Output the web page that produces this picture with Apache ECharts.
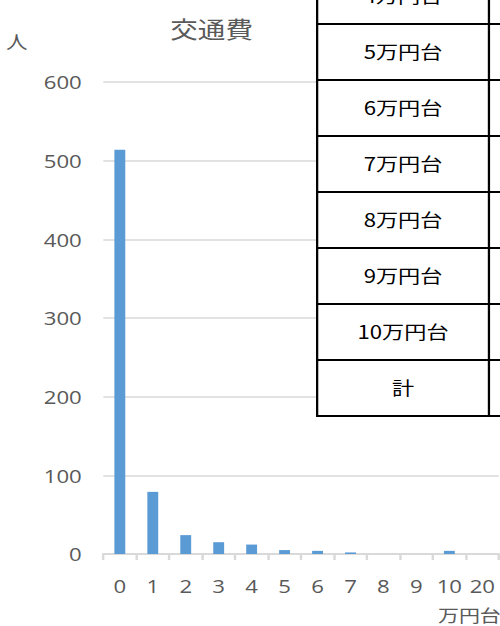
<!DOCTYPE html>
<html>
<head>
<meta charset="utf-8">
<script src="https://cdn.jsdelivr.net/npm/echarts@6/dist/echarts.min.js"></script>
<style>
  html, body { margin: 0; padding: 0; background: #fff; overflow: hidden; }
  #wrap { width: 500px; height: 626px; overflow: hidden; position: relative; }
  #chart { width: 417px; height: 626px; transform: scaleX(1.199); transform-origin: 0 0; }
</style>
</head>
<body>
<div id="wrap"><div id="chart"></div></div>
<script>
// ---- data ----
var categories = ['0', '1', '2', '3', '4', '5', '6', '7', '8', '9', '10', '20'];
var counts = [514, 79, 24, 15, 12, 5, 4, 2, 0, 0, 4, 0];
var yTicks = [0, 100, 200, 300, 400, 500, 600];
var titleText = '交通費';
var yUnit = '人';
var xUnit = '万円台';
var tableRows = ['4万円台', '5万円台', '6万円台', '7万円台', '8万円台', '9万円台', '10万円台', '計'];

// ---- chart ----
(function () {
var chart = echarts.init(document.getElementById('chart'), null, { renderer: 'svg', width: 417, height: 626 });
var fontFam = '"Open Sans", "Noto Sans CJK JP", sans-serif';
var gray = '#595959';

// table overlay (graphic)
var tblLeft = 264.5, tblSep = 407.8, tblRight = 430;
var rowH = 56, firstTop = -32;
var graphics = [];
graphics.push({
  type: 'rect', z: 100,
  shape: { x: tblLeft, y: firstTop - 10, width: tblRight - tblLeft, height: tableRows.length * rowH + 10 },
  style: { fill: '#fff' }
});
for (var i = 0; i < tableRows.length; i++) {
  var rowTop = firstTop + i * rowH;
  graphics.push({
    type: 'text', z: 102,
    style: {
      text: tableRows[i], x: (tblLeft + tblSep) / 2, y: rowTop + rowH / 2 - 1,
      align: 'center', verticalAlign: 'middle',
      font: '18.5px "Noto Sans CJK JP", sans-serif', fill: '#000'
    }
  });
  graphics.push({
    type: 'line', z: 101,
    shape: { x1: tblLeft, y1: rowTop + rowH, x2: tblRight, y2: rowTop + rowH },
    style: { stroke: '#000', lineWidth: 2.2 }
  });
}
var tblBottom = firstTop + tableRows.length * rowH;
graphics.push({ type: 'line', z: 101, shape: { x1: tblLeft, y1: firstTop - 10, x2: tblLeft, y2: tblBottom + 1 }, style: { stroke: '#000', lineWidth: 1.9 } });
graphics.push({ type: 'line', z: 101, shape: { x1: tblSep, y1: firstTop - 10, x2: tblSep, y2: tblBottom + 1 }, style: { stroke: '#000', lineWidth: 1.9 } });

// unit labels
graphics.push({
  type: 'text', z: 50,
  style: { text: yUnit, x: 14, y: 42, align: 'center', verticalAlign: 'middle', font: '18px ' + fontFam, fill: gray }
});
graphics.push({
  type: 'text', z: 50,
  style: { text: xUnit, x: 391.5, y: 615, align: 'center', verticalAlign: 'middle', font: '17.5px ' + fontFam, fill: gray }
});

chart.setOption({
  animation: false,
  backgroundColor: '#fff',
  textStyle: { fontFamily: fontFam },
  title: {
    text: titleText,
    left: 171.5, top: 12,
    textAlign: 'center',
    textStyle: { fontSize: 23, fontWeight: 'normal', color: gray, fontFamily: fontFam }
  },
  grid: { left: 86.2, right: 1, top: 82, bottom: 72, containLabel: false },
  xAxis: {
    type: 'category',
    data: categories,
    boundaryGap: true,
    axisLine: { show: true, lineStyle: { color: '#d9d9d9', width: 2 } },
    axisTick: { show: true, length: 6, lineStyle: { color: '#d9d9d9', width: 2 } },
    axisLabel: { color: gray, fontSize: 18.5, margin: 22, interval: 0, fontFamily: fontFam },
    splitLine: { show: false }
  },
  yAxis: {
    type: 'value',
    min: yTicks[0], max: yTicks[yTicks.length - 1], interval: 100,
    axisLine: { show: false },
    axisTick: { show: false },
    axisLabel: { color: gray, fontSize: 18.5, margin: 18, fontFamily: fontFam },
    splitLine: { show: true, lineStyle: { color: '#d9d9d9', width: 1.5 } }
  },
  series: [{
    type: 'bar',
    data: counts,
    barWidth: '33%',
    itemStyle: { color: '#5b9bd5' }
  }],
  graphic: graphics
});
})();
</script>
</body>
</html>
